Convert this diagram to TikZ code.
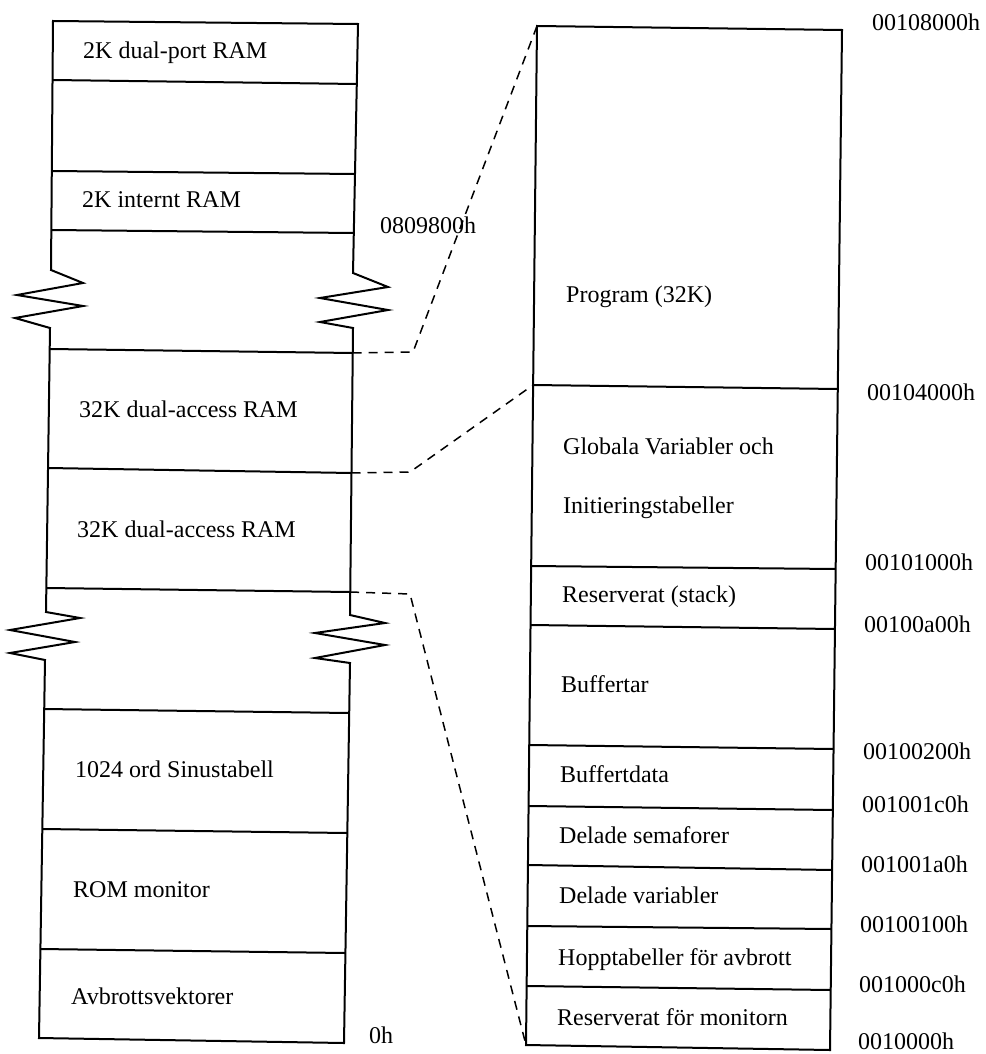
\documentclass[tikz,border=0pt]{standalone}
\usepackage{fontspec}
\setmainfont{Liberation Serif}
\begin{document}
\begin{tikzpicture}[x=1pt,y=-1pt,
  wall/.style={line width=2pt,line join=miter},
  sep/.style={line width=2pt},
  link/.style={line width=1.5pt,dash pattern=on 9pt off 7pt},
  lbl/.style={anchor=base west,inner sep=0pt,font=\fontsize{24}{28}\selectfont},
  adr/.style={anchor=base west,inner sep=0pt,font=\fontsize{24}{28}\selectfont}]
\useasboundingbox (0,0) rectangle (985,1054);
% ---------- left column ----------
\coordinate (LTL) at (53,21);
\coordinate (LTR) at (358,24);
\coordinate (LBL) at (39,1038);
\coordinate (LBR) at (344,1043);
\draw[wall] (LTR) -- (LTL) -- (51,270) -- (83,283) -- (17,295) -- (83,306) -- (15,318) -- (50,328)
  -- (46,612) -- (80,618) -- (10,630) -- (75,642) -- (10,653) -- (45,660) -- (LBL) -- (LBR)
  -- (350,663) -- (315,658) -- (385,645) -- (315,633) -- (385,623) -- (350,615)
  -- (353,328) -- (320,322) -- (388,310) -- (320,298) -- (388,287) -- (353,273) -- cycle;
\coordinate (L1a) at (52.5,80);  \coordinate (L1b) at (356.8,84);
\coordinate (L2a) at (51.8,171); \coordinate (L2b) at (355,174);
\coordinate (L3a) at (51.3,230); \coordinate (L3b) at (353.8,233);
\coordinate (L4a) at (49.7,349); \coordinate (L4b) at (352.7,353);
\coordinate (L5a) at (48,468);   \coordinate (L5b) at (351.5,473);
\coordinate (L6a) at (46.3,588); \coordinate (L6b) at (350.2,592);
\coordinate (L7a) at (44.2,709); \coordinate (L7b) at (349.2,713);
\coordinate (L8a) at (42.3,829); \coordinate (L8b) at (347.3,833);
\coordinate (L9a) at (40.4,949); \coordinate (L9b) at (345.4,953);
\foreach \i in {1,...,9} {\draw[sep] (L\i a) -- (L\i b);}
% ---------- right column ----------
\coordinate (RTL) at (537,26);
\coordinate (RTR) at (842,30);
\coordinate (RBL) at (526,1045);
\coordinate (RBR) at (830,1050);
\draw[wall] (RTL) -- (RTR) -- (RBR) -- (RBL) -- cycle;
\coordinate (R1a) at (533.1,385); \coordinate (R1b) at (837.8,389);
\coordinate (R2a) at (531.2,566); \coordinate (R2b) at (835.6,569);
\coordinate (R3a) at (530.5,625); \coordinate (R3b) at (834.9,629);
\coordinate (R4a) at (529.2,745); \coordinate (R4b) at (833.5,749);
\coordinate (R5a) at (528.6,806); \coordinate (R5b) at (832.8,810);
\coordinate (R6a) at (527.9,865); \coordinate (R6b) at (832.1,870);
\coordinate (R7a) at (527.3,926); \coordinate (R7b) at (831.4,929);
\coordinate (R8a) at (526.6,986); \coordinate (R8b) at (830.7,990);
\foreach \i in {1,...,8} {\draw[sep] (R\i a) -- (R\i b);}
% ---------- dashed links ----------
\coordinate (K1) at (413,352);
\coordinate (K2) at (410,472);
\coordinate (K3) at (410,594);
\draw[link] (L4b) -- (K1) -- (RTL);
\draw[link] (L5b) -- (K2) -- (R1a);
\draw[link] (L6b) -- (K3) -- (RBL);
% ---------- left labels ----------
\node[lbl] (t1) at (83,59) {2K dual-port RAM};
\node[lbl] (t2) at (82,207) {2K internt RAM};
\node[adr] (a0) at (380,233) {0809800h};
\node[lbl] (t3) at (79,417) {32K dual-access RAM};
\node[lbl] (t4) at (77,537) {32K dual-access RAM};
\node[lbl] (t5) at (75,777) {1024 ord Sinustabell};
\node[lbl] (t6) at (73,897) {ROM monitor};
\node[lbl] (t7) at (71,1004) {Avbrottsvektorer};
\node[adr] (a00) at (369,1043) {0h};
% ---------- right labels ----------
\node[lbl] (r1) at (566,302) {Program (32K)};
\node[lbl] (r2) at (563,454) {Globala Variabler och};
\node[lbl] (r2b) at (563,513) {Initieringstabeller};
\node[lbl] (r3) at (562,602) {Reserverat (stack)};
\node[lbl] (r4) at (561,692) {Buffertar};
\node[lbl] (r5) at (560,782) {Buffertdata};
\node[lbl] (r6) at (559,843) {Delade semaforer};
\node[lbl] (r7) at (559,903) {Delade variabler};
\node[lbl] (r8) at (558,965) {Hopptabeller för avbrott};
\node[lbl] (r9) at (557,1025) {Reserverat för monitorn};
% ---------- addresses ----------
\node[adr] (a1) at (872,31) {00108000h};
\node[adr] (a2) at (867,400) {00104000h};
\node[adr] (a3) at (865,570) {00101000h};
\node[adr] (a4) at (864,632) {00100a00h};
\node[adr] (a5) at (863,759) {00100200h};
\node[adr] (a6) at (862,812) {001001c0h};
\node[adr] (a7) at (861,872) {001001a0h};
\node[adr] (a8) at (860,932) {00100100h};
\node[adr] (a9) at (859,992) {001000c0h};
\node[adr] (a10) at (858,1049) {0010000h};
\end{tikzpicture}
\end{document}
